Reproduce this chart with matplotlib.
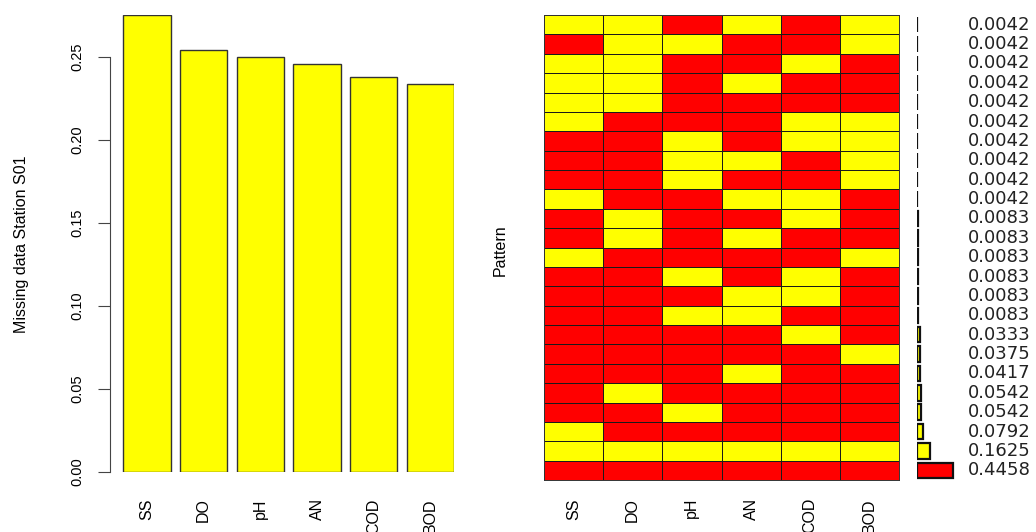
import matplotlib
matplotlib.use("Agg")
import matplotlib.pyplot as plt
from matplotlib.colors import ListedColormap
import numpy as np

plt.rcParams['font.family'] = ['Liberation Sans', 'DejaVu Sans']

variables = ['SS', 'DO', 'pH', 'AN', 'COD', 'BOD']
missing_prop = [0.2750, 0.2542, 0.2500, 0.2458, 0.2375, 0.2333]

# patterns, top row first (1 = missing / yellow, 0 = observed / red)
patterns = [
    [1, 1, 0, 1, 0, 1],
    [0, 1, 1, 0, 0, 1],
    [1, 1, 0, 0, 1, 0],
    [1, 1, 0, 1, 0, 0],
    [1, 1, 0, 0, 0, 0],
    [1, 0, 0, 0, 1, 1],
    [0, 0, 1, 0, 1, 1],
    [0, 0, 1, 1, 0, 1],
    [0, 0, 1, 0, 0, 1],
    [1, 0, 0, 1, 1, 0],
    [0, 1, 0, 0, 1, 0],
    [0, 1, 0, 1, 0, 0],
    [1, 0, 0, 0, 0, 1],
    [0, 0, 1, 0, 1, 0],
    [0, 0, 0, 1, 1, 0],
    [0, 0, 1, 1, 0, 0],
    [0, 0, 0, 0, 1, 0],
    [0, 0, 0, 0, 0, 1],
    [0, 0, 0, 1, 0, 0],
    [0, 1, 0, 0, 0, 0],
    [0, 0, 1, 0, 0, 0],
    [1, 0, 0, 0, 0, 0],
    [1, 1, 1, 1, 1, 1],
    [0, 0, 0, 0, 0, 0],
]
pattern_prop = [0.0042] * 10 + [0.0083] * 6 + [0.0333, 0.0375, 0.0417, 0.0542,
                                               0.0542, 0.0792, 0.1625, 0.4458]

W, H = 1036, 532
fig = plt.figure(figsize=(W / 100, H / 100), dpi=100)


def px_axes(x0, y0, x1, y1):
    # pixel box (top-left origin) -> figure axes
    return fig.add_axes([x0 / W, 1 - y1 / H, (x1 - x0) / W, (y1 - y0) / H])


# ---- left: proportion of missing values per variable
ax1 = px_axes(114, 15, 454, 472)
pos = np.arange(len(variables)) * 1.2 + 0.7
ax1.bar(pos, missing_prop, width=1.0, color='yellow', edgecolor='#333333', linewidth=1.0)
ax1.set_xlim(0, 7.2)
ax1.set_ylim(0, 0.275)
for s in ['top', 'right', 'bottom']:
    ax1.spines[s].set_visible(False)
ax1.spines['left'].set_position(('outward', 3))
ax1.spines['left'].set_bounds(0, 0.25)
ax1.spines['left'].set_color('#444444')
ax1.set_yticks(np.arange(0, 0.26, 0.05))
ax1.set_yticklabels(['%.2f' % v for v in np.arange(0, 0.26, 0.05)],
                    rotation=90, va='center', fontsize=10.5)
ax1.tick_params(axis='y', length=8.6, pad=10, color='#444444')
ax1.set_xticks(pos)
ax1.set_xticklabels(variables, rotation=90, va='top', ha='center', fontsize=11.5)
ax1.tick_params(axis='x', length=0, pad=19)
fig.text(22 / W, 1 - 244 / H, 'Missing data Station S01', rotation=90,
         ha='center', va='center', fontsize=11.5)

# ---- right: missingness pattern grid
ax2 = px_axes(544, 15, 899, 480)
grid = np.array(patterns)
ax2.pcolormesh(np.arange(7), np.arange(len(patterns) + 1), grid,
               cmap=ListedColormap(['red', 'yellow']), vmin=0, vmax=1,
               edgecolors='#1a1a1a', linewidth=0.7)
ax2.set_xlim(0, 6)
ax2.set_ylim(len(patterns), 0)
ax2.set_yticks([])
ax2.set_xticks(np.arange(6) + 0.5)
ax2.set_xticklabels(variables, rotation=90, va='top', ha='center', fontsize=11.5)
ax2.tick_params(axis='x', length=0, pad=13)
for s in ax2.spines.values():
    s.set_linewidth(0.7)
    s.set_color('#333333')
fig.text(500 / W, 1 - 250 / H, 'Pattern', rotation=90, ha='center', va='center', fontsize=11.5)

# ---- pattern frequencies
ax3 = px_axes(917, 15, 957, 480)
rows = np.arange(len(patterns)) + 0.5
bar_cols = ['red' if sum(p) == 0 else 'yellow' for p in patterns]
ax3.barh(rows, pattern_prop, height=0.8, color=bar_cols, edgecolor='#111111', linewidth=1.6)
ax3.set_xlim(0, 0.4458 * 40 / 36)
ax3.set_ylim(len(patterns), 0)
ax3.axis('off')
for r, v in zip(rows, pattern_prop):
    ax3.annotate('%.4f' % v, xy=(1, r), xycoords=('axes fraction', 'data'),
                 xytext=(8, 0), textcoords='offset points', ha='left', va='center',
                 fontsize=13, color='#222222', family='DejaVu Sans')

fig.savefig('out.png', dpi=100)
